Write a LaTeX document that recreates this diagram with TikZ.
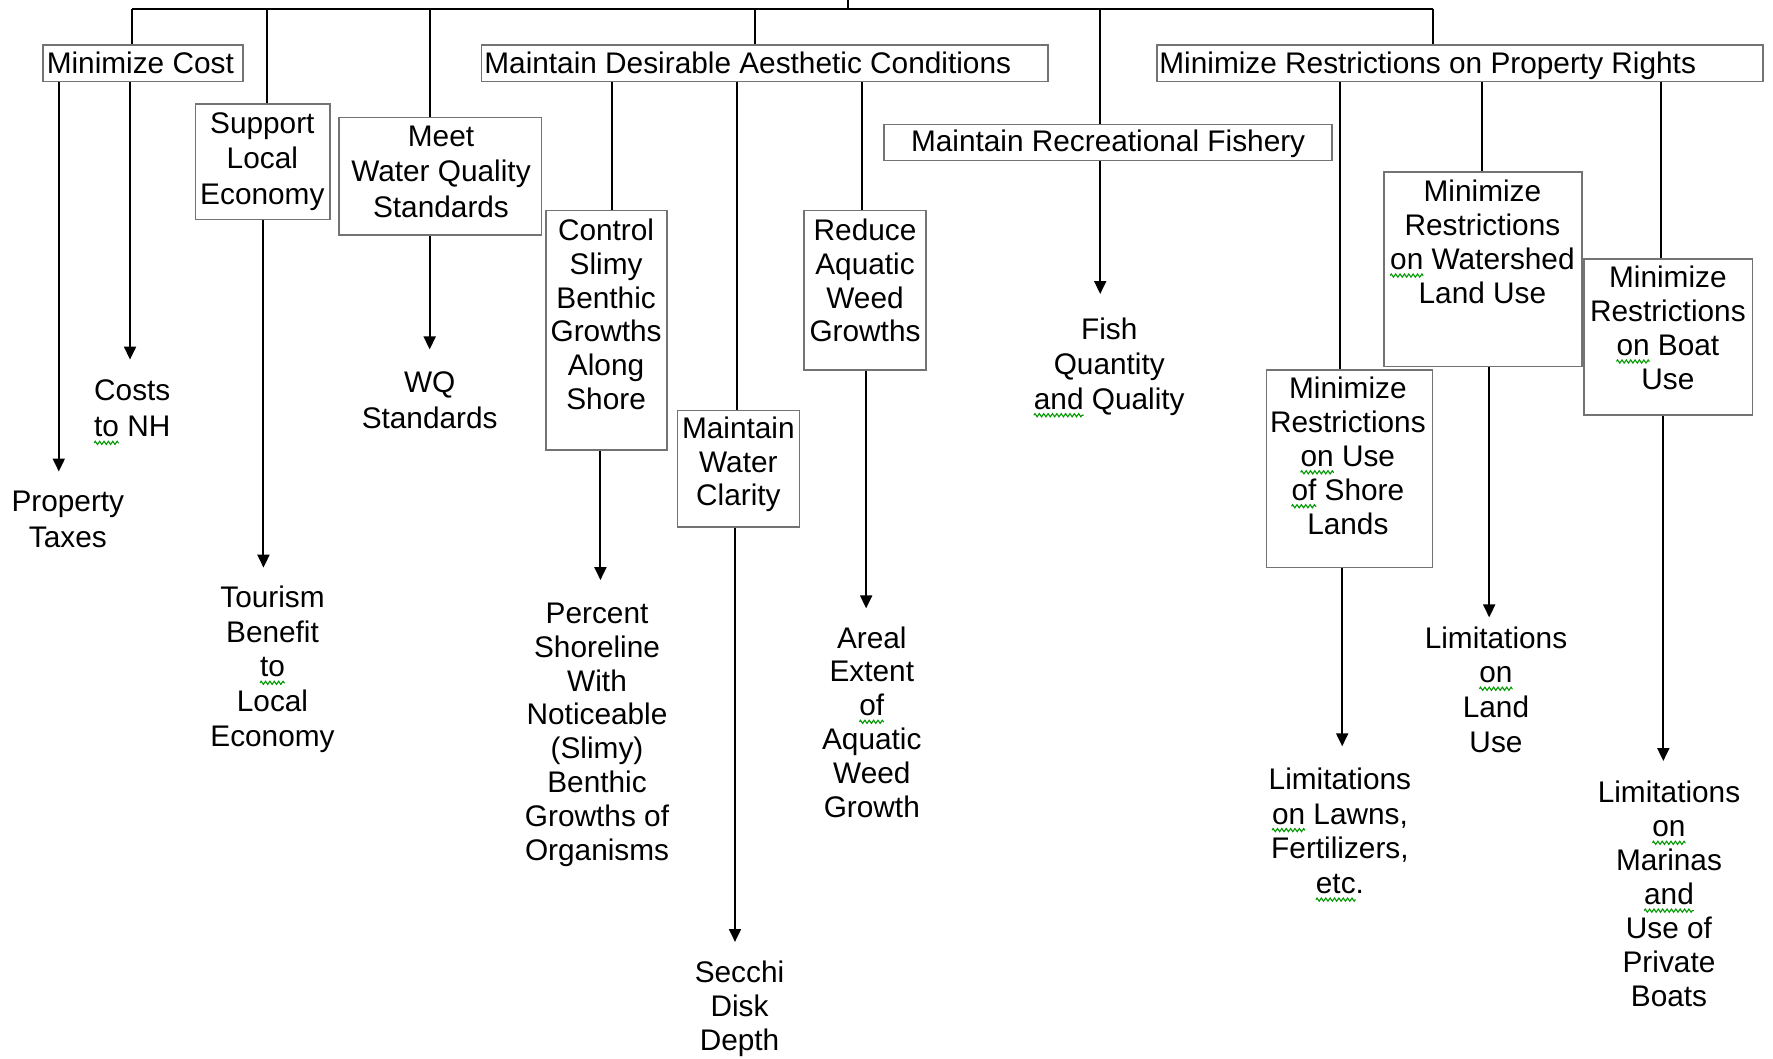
\documentclass[tikz,border=0pt]{standalone}
\usepackage{fontspec}
\setmainfont{Liberation Sans}
\usetikzlibrary{arrows.meta,fit,decorations.pathmorphing}
\newlength\sqw
\newcommand\sq[1]{\settowidth\sqw{#1}\tikz[baseline=0pt]{\node[inner sep=0pt,outer sep=0pt,anchor=base west] at (0pt,0pt) {#1};\draw[overlay,green!60!black,line width=0.55pt,decorate,decoration={zigzag,amplitude=0.8pt,segment length=2.2pt}] (0pt,-3pt) -- (\sqw,-3pt);}}
\begin{document}
\begin{tikzpicture}[x=0.02cm, y=-0.02cm,
  box/.style={draw=black!55, line width=0.8pt, inner sep=0pt},
  txt/.style={font=\fontsize{15}{17.07}\selectfont, align=center, inner sep=0pt},
  wide/.style={font=\fontsize{15}{#1}\selectfont},
  conn/.style={line width=1pt, black},
  arr/.style={conn, -{Triangle[length=6.5pt,width=6pt]}}]
\useasboundingbox (0,0) rectangle (1568,936);
% boxes
\node[box, fit={(38,40) (215,72)}] (b1) {};
\node[box, fit={(426,40) (927,72)}] (b2) {};
\node[box, fit={(1023,40) (1559,72)}] (b3) {};
\node[box, fit={(782,110) (1178,142)}] (b4) {};
\node[box, fit={(173,92) (292,194)}] (b5) {};
\node[box, fit={(300,104) (479,208)}] (b6) {};
\node[box, fit={(483,186) (590,398)}] (b7) {};
\node[box, fit={(599,363) (707,466)}] (b8) {};
\node[box, fit={(711,186) (819,327)}] (b9) {};
\node[box, fit={(1224,152) (1399,324)}] (b10) {};
\node[box, fit={(1401,229) (1550,367)}] (b11) {};
\node[box, fit={(1120,327) (1267,502)}] (b12) {};
% box texts
\node[txt, anchor=base west] (t1) at (41,65) {Minimize Cost};
\node[txt, anchor=base west] (t2) at (428,65) {Maintain Desirable Aesthetic Conditions};
\node[txt, anchor=base west] (t3) at (1025,65) {Minimize Restrictions on Property Rights};
\node[txt, anchor=base] (t4) at (980,134) {Maintain Recreational Fishery};
\node[txt, wide=17.9pt, anchor=north] (t5) at (232,99) {Support\\Local\\Economy};
\node[txt, wide=17.9pt, anchor=north] (t6) at (390,111) {Meet\\Water Quality\\Standards};
\node[txt, anchor=north] (t7) at (536,193) {Control\\Slimy\\Benthic\\Growths\\Along\\Shore};
\node[txt, anchor=north] (t8) at (653,368) {Maintain\\Water\\Clarity};
\node[txt, anchor=north] (t9) at (765,193) {Reduce\\Aquatic\\Weed\\Growths};
\node[txt, anchor=north] (t10) at (1311,159) {Minimize\\Restrictions\\\sq{on} Watershed\\Land Use};
\node[txt, anchor=north] (t11) at (1475,235) {Minimize\\Restrictions\\\sq{on} Boat\\Use};
\node[txt, anchor=north] (t12) at (1192,333) {Minimize\\Restrictions\\\sq{on} Use\\\sq{of} Shore\\Lands};
% leaves
\node[txt, wide=18.2pt, anchor=north, outer ysep=0.34cm] (l1) at (60,417) {Property\\Taxes};
\node[txt, wide=18.2pt, anchor=north, outer ysep=0.36cm] (l2) at (117,318) {Costs\\\sq{to} NH};
\node[txt, wide=17.5pt, anchor=north, outer ysep=0.32cm] (l3) at (241,502) {Tourism\\Benefit\\\sq{to}\\Local\\Economy};
\node[txt, wide=18.2pt, anchor=north, outer ysep=0.40cm] (l4) at (380,309) {WQ\\Standards};
\node[txt, anchor=north, outer ysep=0.40cm] (l5) at (528,513) {Percent\\Shoreline\\With\\Noticeable\\(Slimy)\\Benthic\\Growths of\\Organisms};
\node[txt, anchor=north, outer ysep=0.34cm] (l6) at (654,833) {Secchi\\Disk\\Depth};
\node[txt, anchor=north, outer ysep=0.32cm] (l7) at (771,538) {Areal\\Extent\\\sq{of}\\Aquatic\\Weed\\Growth};
\node[txt, wide=17.6pt, anchor=north, outer ysep=0.42cm] (l8) at (981,260) {Fish\\Quantity\\\sq{and} Quality};
\node[txt, wide=17.5pt, anchor=north, outer ysep=0.38cm] (l9) at (1185,660) {Limitations\\\sq{on} Lawns,\\Fertilizers,\\\sq{etc}.};
\node[txt, wide=17.5pt, anchor=north, outer ysep=0.16cm] (l10) at (1323,546) {Limitations\\\sq{on}\\Land\\Use};
\node[txt, anchor=north, outer ysep=0.36cm] (l11) at (1476,673) {Limitations\\\sq{on}\\Marinas\\\sq{and}\\Use of\\Private\\Boats};
% root and bus
\coordinate (root) at (750,0);
\coordinate (bus) at (750,8);
\coordinate (busL) at (117,8);
\coordinate (busR) at (1267,8);
\draw[conn] (root) -- (bus);
\draw[conn] (busL) -- (busR);
\draw[conn] (busL) -- (b1.north -| busL);
\draw[conn] (236,0 |- busL) -- (236,0 |- b5.north);
\draw[conn] (380,0 |- busL) -- (380,0 |- b6.north);
\draw[conn] (668,0 |- busL) -- (668,0 |- b2.north);
\draw[conn] (973,0 |- busL) -- (973,0 |- b4.north);
\draw[conn] (busR) -- (b3.north -| busR);
% second level
\draw[conn] (b2.south -| 541,0) -- (541,0 |- b7.north);
\draw[conn] (b2.south -| 652,0) -- (652,0 |- b8.north);
\draw[conn] (b2.south -| 762,0) -- (762,0 |- b9.north);
\draw[conn] (b3.south -| 1185,0) -- (1185,0 |- b12.north);
\draw[conn] (b3.south -| 1311,0) -- (1311,0 |- b10.north);
\draw[conn] (b3.south -| 1469,0) -- (1469,0 |- b11.north);
% arrows to leaves
\draw[arr] (b1.south -| 52,0) -- (52,0 |- l1.north);
\draw[arr] (b1.south -| 115,0) -- (115,0 |- l2.north);
\draw[arr] (b5.south -| 233,0) -- (233,0 |- l3.north);
\draw[arr] (b6.south -| 380,0) -- (380,0 |- l4.north);
\draw[arr] (b7.south -| 531,0) -- (531,0 |- l5.north);
\draw[arr] (b8.south -| 650,0) -- (650,0 |- l6.north);
\draw[arr] (b9.south -| 766,0) -- (766,0 |- l7.north);
\draw[arr] (b4.south -| 973,0) -- (973,0 |- l8.north);
\draw[arr] (b12.south -| 1187,0) -- (1187,0 |- l9.north);
\draw[arr] (b10.south -| 1317,0) -- (1317,0 |- l10.north);
\draw[arr] (b11.south -| 1471,0) -- (1471,0 |- l11.north);
\end{tikzpicture}
\end{document}
